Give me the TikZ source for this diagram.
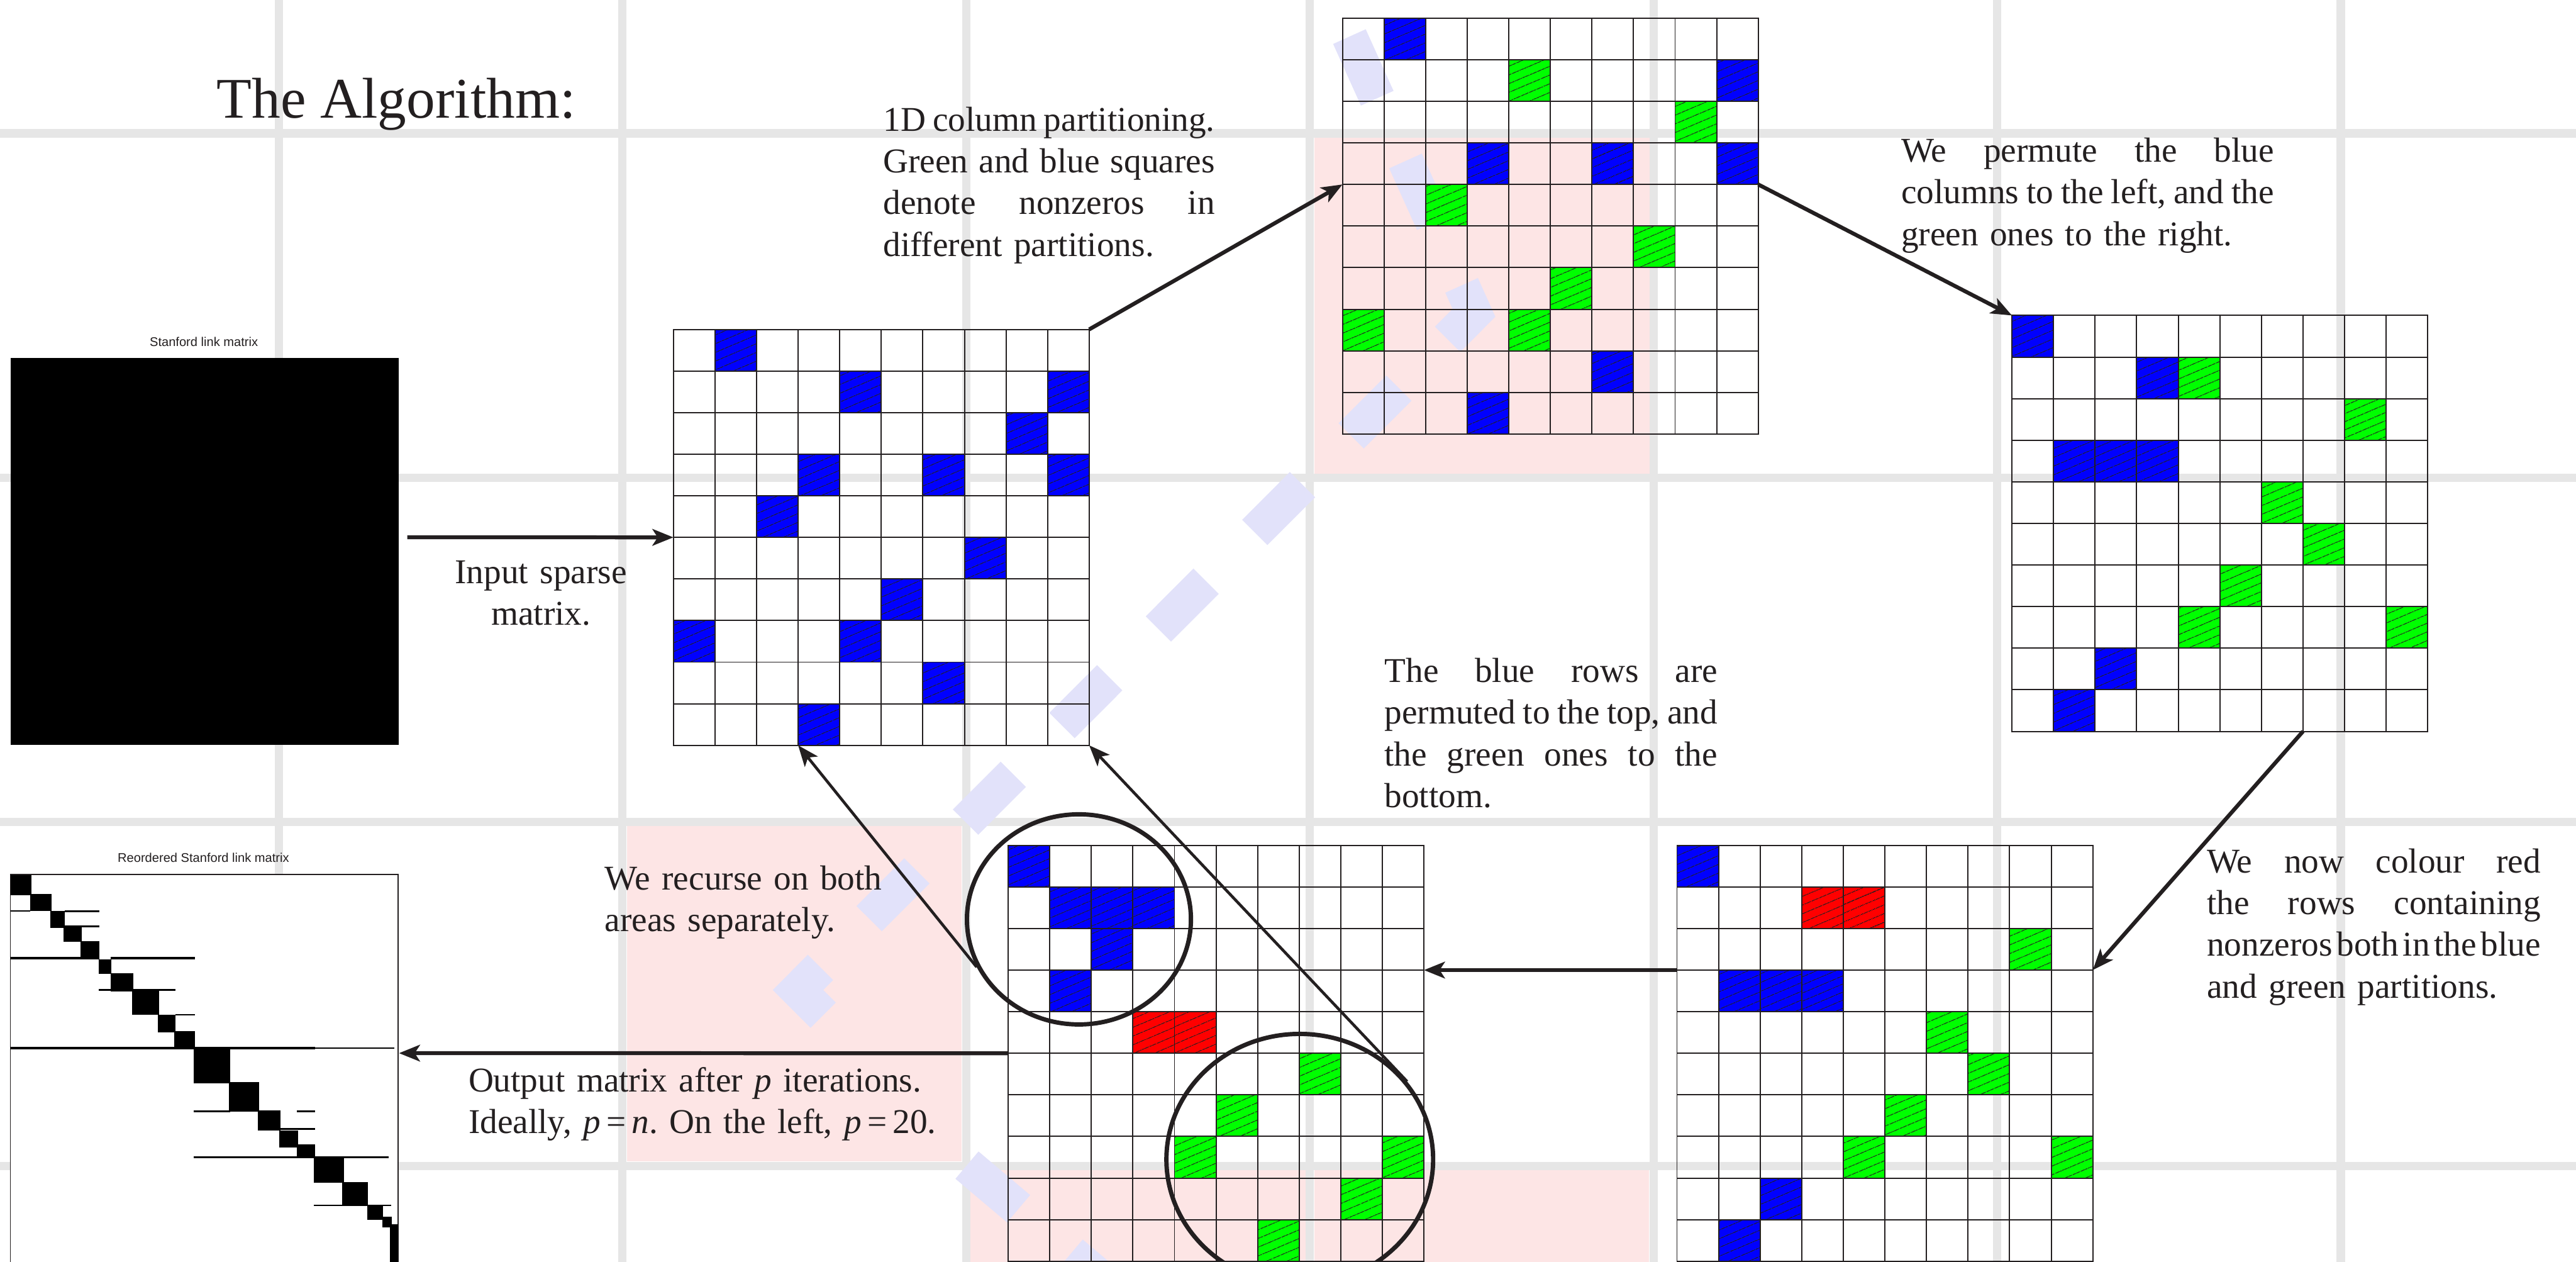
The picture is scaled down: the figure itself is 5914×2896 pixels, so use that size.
\documentclass[tikz,border=0pt]{standalone}
\usepackage{fontspec}
\setmainfont{Liberation Serif}
\setsansfont{Liberation Sans}
\usetikzlibrary{shapes.geometric,arrows.meta,patterns.meta}

\definecolor{gridgray}{RGB}{230,230,230}
\definecolor{pinkbg}{RGB}{253,229,229}
\definecolor{dashblue}{RGB}{226,226,250}
\definecolor{inkline}{RGB}{35,31,32}
\definecolor{nzblue}{RGB}{0,0,255}
\definecolor{nzgreen}{RGB}{0,255,0}
\definecolor{nzred}{RGB}{255,0,0}

\newcommand{\bodyfont}{\fontsize{22.7pt}{27.2pt}\selectfont\frenchspacing}
% one justified line of a caption
\newcommand{\jl}[1]{\leavevmode\hbox to\linewidth{\spaceskip=.25em plus 1fil minus .16em\relax #1}}
% 10 x 10 cell lines of a small matrix
\newcommand{\sparsegrid}{\foreach \k in {0,...,10}{\draw[cellgrid] (\k,0) -- (\k,10) (0,\k) -- (10,\k);}}

\tikzset{
  bgline/.style={gridgray, line width=0.19cm},
  cellgrid/.style={inkline, line width=0.8pt, line cap=rect},
  nz/.style={fill=#1, postaction={pattern={Lines[angle=23,distance=0.18cm,line width=0.5pt]}, pattern color=inkline}},
  mat/.style={x=0.954cm, y=-0.954cm},
  flow/.style={-{Stealth[length=0.48cm,width=0.38cm,inset=0.12cm]}, inkline, line width=0.09cm},
  flowthin/.style={flow, line width=0.065cm},
  loop/.style={ellipse, draw=inkline, line width=0.1cm, inner sep=0pt},
  txt/.style={font=\bodyfont, text=inkline, inner sep=0pt, anchor=base west, align=left},
  plotlabel/.style={font=\sffamily\fontsize{8.25pt}{10pt}\selectfont, text=inkline, inner sep=0pt, anchor=base},
}

\begin{document}
\begin{tikzpicture}[x=0.01cm, y=-0.01cm]
  % page: 5914 x 2896 px, 1 px = 0.01 cm
  \useasboundingbox (0,0) rectangle (5914,2896);
  \fill[white] (0,0) rectangle (5914,2896);

  % Background: pink cells, grey grid, dashed band
  \fill[pinkbg] (3017,316) rectangle (3787,1087);
  \fill[pinkbg] (1439,1896) rectangle (2208,2666);
  \fill[pinkbg] (2228,2686) rectangle (2997,2896);
  \fill[pinkbg] (3017,2686) rectangle (3786,2896);
  \foreach \gx in {640,1429,2218,3007,3796,4585,5374}
    \draw[bgline] (\gx,0) -- (\gx,2896);
  \foreach \gy in {306,1096,1886,2676}
    \draw[bgline] (0,\gy) -- (5914,\gy);
  \draw[dashblue, line width=0.82cm, dash pattern=on 1.55cm off 1.58cm]
    (3098,84) -- (3384,718) -- (1832,2272) -- (1890,2330);
  \draw[dashblue, line width=0.82cm, dash pattern=on 1.55cm off 1.58cm]
    (2220,2674) -- (2600,2995);

  % Stanford link matrix (input)
  \node[plotlabel] (stanLbl) at (468,795) {Stanford link matrix};
  \fill[black] (24,821) rectangle (915,1710);
  \coordinate (stan-out) at (935,1233);

  % Reordered Stanford link matrix (output)
  \node[plotlabel] (reordLbl) at (467,1979) {Reordered Stanford link matrix};
  \draw[inkline, line width=0.7pt, fill=white] (24,2007) rectangle (914,2930);
  \foreach \xa/\ya/\xb/\yb in {24/2008/72/2054, 69/2052/118/2091, 115/2091/149/2129,
      146/2126/188/2162, 185/2160/228/2202, 226/2202/256/2235, 254/2234/306/2275,
      303/2274/365/2329, 362/2329/403/2369, 400/2366/448/2408, 445/2408/528/2486,
      525/2483/595/2551, 592/2549/644/2594, 641/2594/684/2633, 682/2626/724/2656,
      721/2656/790/2715, 786/2713/845/2766, 843/2766/880/2800, 878/2793/899/2817,
      895/2810/914/2896}
    \fill[black] (\xa,\ya) rectangle (\xb,\yb);
  \foreach \yy/\xa/\xb/\w in {2091/24/69/3, 2091/149/228/4, 2126/149/228/4,
      2199/24/185/6, 2199/254/448/6, 2272/226/403/4, 2329/403/448/4,
      2405/24/724/6, 2405/724/906/3, 2551/445/528/4, 2551/682/724/4,
      2591/644/724/4, 2656/445/893/4, 2766/721/898/3}
    \fill[black] (\xa,\yy-\w/2) rectangle (\xb,\yy+\w/2);
  \coordinate (reord-in) at (916,2417);

  % Captions
  \node[inner sep=0pt, anchor=base west, text=inkline,
        font=\fontsize{37.5pt}{45pt}\selectfont] (title) at (497,270) {The Algorithm:};
  \node[txt, anchor=base, text width=5cm, align=center] (inTxt) at (1242,1339)
    {Input sparse\\matrix.};
  \node[txt, text width=7.61cm] (partTxt) at (2027,301)
    {\jl{1D column partitioning.}\\\jl{Green and blue squares}\\\jl{denote nonzeros in}\\different partitions.};
  \node[txt, text width=8.55cm] (colTxt) at (4364,372)
    {\jl{We permute the blue}\\\jl{columns to the left, and the}\\green ones to the right.};
  \node[txt, text width=7.64cm] (rowTxt) at (3178,1566)
    {\jl{The blue rows are}\\\jl{permuted to the top, and}\\\jl{the green ones to the}\\bottom.};
  \node[txt, text width=7.66cm] (redTxt) at (5066,2003)
    {\jl{We now colour red}\\\jl{the rows containing}\\\jl{nonzeros both in the blue}\\and green partitions.};
  \node[txt, text width=7cm] (recTxt) at (1388,2042)
    {We recurse on both\\areas separately.};
  \node[txt, text width=12cm] (outTxt) at (1075,2506)
    {Output matrix after \textit{p} iterations.\\Ideally, \textit{p}\,=\,\textit{n}. On the left, \textit{p}\,=\,20.};

  % Matrix A: input pattern
  \begin{scope}[shift={(1546,756)}, mat]
    \foreach \c/\r in {1/0,4/1,9/1,8/2,3/3,6/3,9/3,2/4,7/5,5/6,0/7,4/7,6/8,3/9}
      \fill[nz=nzblue] (\c,\r) rectangle ++(1,1);
    \sparsegrid
    \coordinate (A-in) at (0,5);
    \coordinate (A-ne) at (10,0);
    \coordinate (A-s3) at (3,10);
    \coordinate (A-se) at (10,10);
  \end{scope}

  % Matrix B: column partitioning
  \begin{scope}[shift={(3082,41.5)}, mat]
    \foreach \c/\r in {1/0,9/1,3/3,6/3,9/3,6/8,3/9}
      \fill[nz=nzblue] (\c,\r) rectangle ++(1,1);
    \foreach \c/\r in {4/1,8/2,2/4,7/5,5/6,0/7,4/7}
      \fill[nz=nzgreen] (\c,\r) rectangle ++(1,1);
    \sparsegrid
    \coordinate (B-in) at (0,4);
    \coordinate (B-out) at (10,4);
  \end{scope}

  % Matrix C: columns permuted
  \begin{scope}[shift={(4619,724)}, mat]
    \foreach \c/\r in {0/0,3/1,1/3,2/3,3/3,2/8,1/9}
      \fill[nz=nzblue] (\c,\r) rectangle ++(1,1);
    \foreach \c/\r in {4/1,8/2,6/4,7/5,5/6,4/7,9/7}
      \fill[nz=nzgreen] (\c,\r) rectangle ++(1,1);
    \sparsegrid
    \coordinate (C-nw) at (0,0);
    \coordinate (C-out) at (7,10);
  \end{scope}

  % Matrix D: mixed rows in red
  \begin{scope}[shift={(3850,1940)}, mat]
    \foreach \c/\r in {0/0,1/3,2/3,3/3,2/8,1/9}
      \fill[nz=nzblue] (\c,\r) rectangle ++(1,1);
    \foreach \c/\r in {3/1,4/1}
      \fill[nz=nzred] (\c,\r) rectangle ++(1,1);
    \foreach \c/\r in {8/2,6/4,7/5,5/6,4/7,9/7}
      \fill[nz=nzgreen] (\c,\r) rectangle ++(1,1);
    \sparsegrid
    \coordinate (D-in) at (10,3);
    \coordinate (D-out) at (0,3);
  \end{scope}

  % Matrix E: rows permuted
  \begin{scope}[shift={(2314.5,1940)}, mat]
    \foreach \c/\r in {0/0,1/1,2/1,3/1,2/2,1/3}
      \fill[nz=nzblue] (\c,\r) rectangle ++(1,1);
    \foreach \c/\r in {3/4,4/4}
      \fill[nz=nzred] (\c,\r) rectangle ++(1,1);
    \foreach \c/\r in {7/5,5/6,4/7,9/7,8/8,6/9}
      \fill[nz=nzgreen] (\c,\r) rectangle ++(1,1);
    \sparsegrid
    \coordinate (E-in) at (10,3);
    \coordinate (E-out) at (0,5);
  \end{scope}

  % Recursion areas
  \node[loop, minimum width=5.14cm, minimum height=4.82cm] (rec1) at (2477,2110) {};
  \node[loop, minimum width=6.12cm, minimum height=5.76cm] (rec2) at (2984,2661) {};

  % Flow of the algorithm
  \draw[flow] (stan-out) -- (A-in);
  \draw[flow] (A-ne) -- (B-in);
  \draw[flow] (B-out) -- (C-nw);
  \draw[flow] (C-out) -- (D-in);
  \draw[flow] (D-out) -- (E-in);
  \draw[flow] (E-out) -- (reord-in);
  \draw[flowthin] (rec1.205) -- (A-s3);
  \draw[flowthin] (rec2.36) -- (A-se);
\end{tikzpicture}
\end{document}
